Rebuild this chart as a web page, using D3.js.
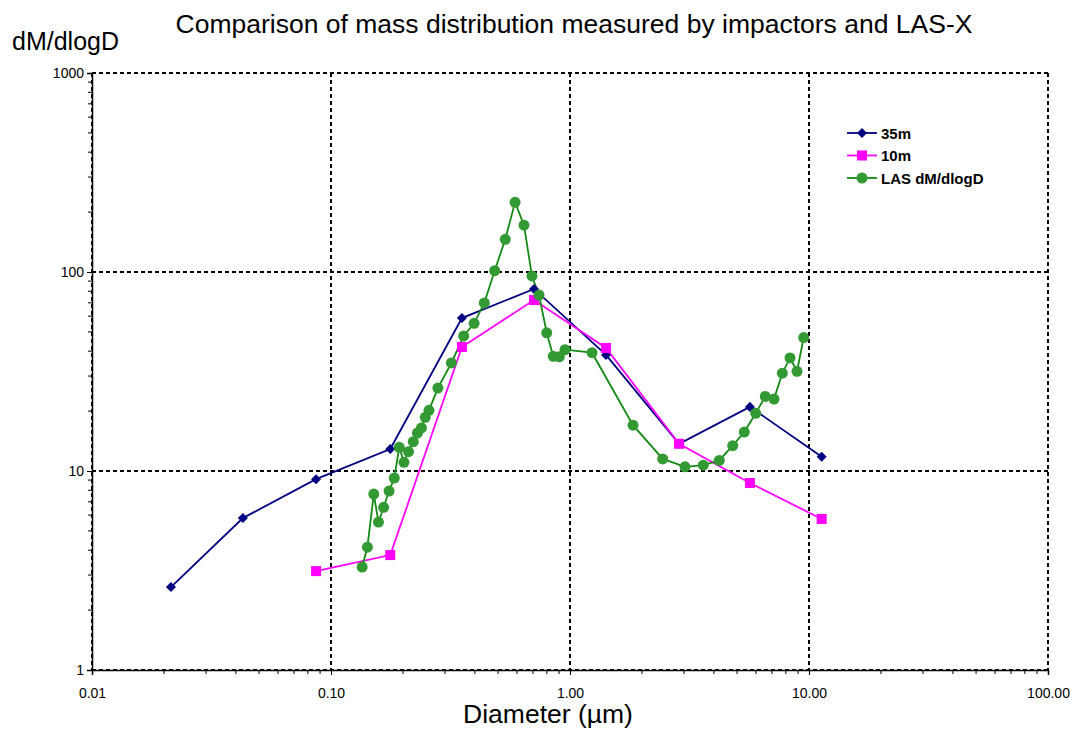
<!DOCTYPE html>
<html>
<head>
<meta charset="utf-8">
<script src="https://cdn.jsdelivr.net/npm/d3@7"></script>
<style>
  body { margin: 0; background: #fff; }
  svg { display: block; font-family: Arial, "Liberation Sans", sans-serif; }
</style>
</head>
<body>
<div id="chart"></div>
<script>
/* Data */
const IMP_D = [0.0214, 0.0428, 0.0866, 0.177, 0.353, 0.707, 1.415, 2.86, 5.66, 11.3];
const M35 = [2.61, 5.8, 9.1, 12.9, 58.7, 82.2, 38.3, 13.7, 21.0, 11.8];
const IMP10_D = [0.0866, 0.177, 0.353, 0.707, 1.415, 2.86, 5.66, 11.3];
const M10 = [3.14, 3.78, 42.0, 72.3, 41.5, 13.7, 8.7, 5.74];
const LAS_D = [0.135, 0.142, 0.151, 0.158, 0.166, 0.175, 0.184, 0.193, 0.202, 0.211,
  0.221, 0.230, 0.239, 0.248, 0.257, 0.280, 0.319, 0.359, 0.397, 0.438,
  0.484, 0.536, 0.589, 0.642, 0.693, 0.742, 0.799, 0.851, 0.902, 0.953,
  1.236, 1.835, 2.443, 3.028, 3.612, 4.214, 4.795, 5.362, 5.984, 6.565,
  7.139, 7.734, 8.329, 8.910, 9.502];
const LAS = [3.29, 4.14, 7.66, 5.54, 6.57, 7.93, 9.22, 13.16, 11.06, 12.5,
  14.04, 15.52, 16.45, 18.62, 20.18, 26.1, 34.9, 47.7, 55.2, 69.9,
  101.5, 146, 224, 172, 95.5, 76.6, 49.5, 37.7, 37.5, 40.7,
  39.3, 17.0, 11.5, 10.5, 10.7, 11.3, 13.4, 15.7, 19.5, 23.7,
  23.0, 31.0, 37.0, 31.7, 46.8];
const X_TICKS = [0.01, 0.1, 1, 10, 100];
const X_LABELS = ['0.01', '0.10', '1.00', '10.00', '100.00'];
const Y_TICKS = [1, 10, 100, 1000];
const Y_LABELS = ['1', '10', '100', '1000'];
const SERIES_NAMES = ['35m', '10m', 'LAS dM/dlogD'];

/* Dimensions */
const WIDTH = 1081;
const HEIGHT = 730;
const LEFT = 92, RIGHT = 1048, TOP = 73, BOTTOM = 670;

const svg = d3.select('#chart').append('svg')
    .attr('width', WIDTH)
    .attr('height', HEIGHT);

const x = d3.scaleLog().domain([0.01, 100]).range([LEFT, RIGHT]);
const y = d3.scaleLog().domain([1, 1000]).range([BOTTOM, TOP]);

/* minor ticks */
const xMinor = [], yMinor = [];
X_TICKS.slice(0, -1).forEach(t => { for (let k = 2; k <= 9; k++) xMinor.push(t * k); });
Y_TICKS.slice(0, -1).forEach(t => { for (let k = 2; k <= 9; k++) yMinor.push(t * k); });

/* grid (dashed) */
const grid = svg.append('g');
grid.selectAll('.vgrid').data(X_TICKS.slice(1)).enter().append('line')
    .attr('x1', d => x(d)).attr('x2', d => x(d))
    .attr('y1', TOP).attr('y2', BOTTOM)
    .attr('stroke', '#000').attr('stroke-width', 2).attr('stroke-dasharray', '4,3');
grid.selectAll('.hgrid').data(Y_TICKS.slice(1)).enter().append('line')
    .attr('x1', LEFT).attr('x2', RIGHT)
    .attr('y1', d => y(d)).attr('y2', d => y(d))
    .attr('stroke', '#000').attr('stroke-width', 2).attr('stroke-dasharray', '4,3');

/* axes */
const yAxis = svg.append('g').attr('transform', `translate(${LEFT},0)`)
    .call(d3.axisLeft(y).tickValues(Y_TICKS).tickSize(5).tickFormat((d, i) => Y_LABELS[i]));
yAxis.append('g').selectAll('line').data(yMinor).enter().append('line')
    .attr('x1', -4).attr('x2', 0).attr('y1', d => y(d)).attr('y2', d => y(d)).attr('stroke', '#000');

const xAxis = svg.append('g').attr('transform', `translate(0,${BOTTOM})`)
    .call(d3.axisBottom(x).tickValues(X_TICKS).tickSize(5).tickFormat((d, i) => X_LABELS[i]));
xAxis.append('g').selectAll('line').data(xMinor).enter().append('line')
    .attr('y1', 0).attr('y2', 4).attr('x1', d => x(d)).attr('x2', d => x(d)).attr('stroke', '#000');

[yAxis, xAxis].forEach(a => {
  a.select('.domain').attr('stroke', '#000').attr('stroke-width', 1.5);
  a.selectAll('.tick line').attr('stroke', '#000');
  a.selectAll('text').attr('font-size', 14).attr('fill', '#000')
    .attr('font-family', 'Arial, "Liberation Sans", sans-serif');
});
yAxis.selectAll('.tick text').attr('x', -8);
xAxis.selectAll('.tick text').attr('y', 18);

/* dashed over the axis lines like the reference */
svg.append('line').attr('x1', LEFT).attr('x2', RIGHT).attr('y1', BOTTOM).attr('y2', BOTTOM)
    .attr('stroke', '#000').attr('stroke-width', 2).attr('stroke-dasharray', '4,3');
svg.append('line').attr('x1', LEFT).attr('x2', LEFT).attr('y1', TOP).attr('y2', BOTTOM)
    .attr('stroke', '#000').attr('stroke-width', 2).attr('stroke-dasharray', '4,3');

/* series */
const line = d3.line().x(d => x(d[0])).y(d => y(d[1]));
const s35 = IMP_D.map((d, i) => [d, M35[i]]);
const s10 = IMP10_D.map((d, i) => [d, M10[i]]);
const sLas = LAS_D.map((d, i) => [d, LAS[i]]);

svg.append('path').datum(s35).attr('d', line)
    .attr('fill', 'none').attr('stroke', '#000080').attr('stroke-width', 1.8);
svg.append('path').datum(s10).attr('d', line)
    .attr('fill', 'none').attr('stroke', '#ff00ff').attr('stroke-width', 1.8);
svg.append('path').datum(sLas).attr('d', line)
    .attr('fill', 'none').attr('stroke', '#138a13').attr('stroke-width', 1.8);

const diamond = d3.symbol().type(d3.symbolDiamond2 || d3.symbolDiamond).size(64);
svg.append('g').selectAll('path').data(s35).enter().append('path')
    .attr('d', diamond)
    .attr('transform', d => `translate(${x(d[0])},${y(d[1])})`)
    .attr('fill', '#000080');
svg.append('g').selectAll('rect').data(s10).enter().append('rect')
    .attr('x', d => x(d[0]) - 5).attr('y', d => y(d[1]) - 5)
    .attr('width', 10).attr('height', 10)
    .attr('fill', '#ff00ff');
svg.append('g').selectAll('circle').data(sLas).enter().append('circle')
    .attr('cx', d => x(d[0])).attr('cy', d => y(d[1])).attr('r', 5.5)
    .attr('fill', '#339933');

/* legend */
const legend = svg.append('g').attr('transform', 'translate(847,133)');
SERIES_NAMES.forEach((name, i) => {
  const g = legend.append('g').attr('transform', `translate(0,${i * 22.5})`);
  const col = ['#000080', '#ff00ff', '#138a13'][i];
  g.append('line').attr('x1', 0).attr('x2', 30).attr('y1', 0).attr('y2', 0)
      .attr('stroke', col).attr('stroke-width', 1.8);
  if (i === 0) g.append('path').attr('d', diamond).attr('transform', 'translate(15,0)').attr('fill', col);
  if (i === 1) g.append('rect').attr('x', 10).attr('y', -5).attr('width', 10).attr('height', 10).attr('fill', col);
  if (i === 2) g.append('circle').attr('cx', 15).attr('cy', 0).attr('r', 5.5).attr('fill', '#339933');
  g.append('text').attr('x', 34).attr('y', 5.5).text(name)
      .attr('font-size', 15).attr('font-weight', 'bold');
});

/* titles */
svg.append('text').attr('x', 574).attr('y', 33).attr('text-anchor', 'middle')
    .attr('font-size', 26.5).text('Comparison of mass distribution measured by impactors and LAS-X');
svg.append('text').attr('x', 12).attr('y', 50)
    .attr('font-size', 25).text('dM/dlogD');
svg.append('text').attr('x', 548).attr('y', 723).attr('text-anchor', 'middle')
    .attr('font-size', 26.5).text('Diameter (µm)');
</script>
</body>
</html>
